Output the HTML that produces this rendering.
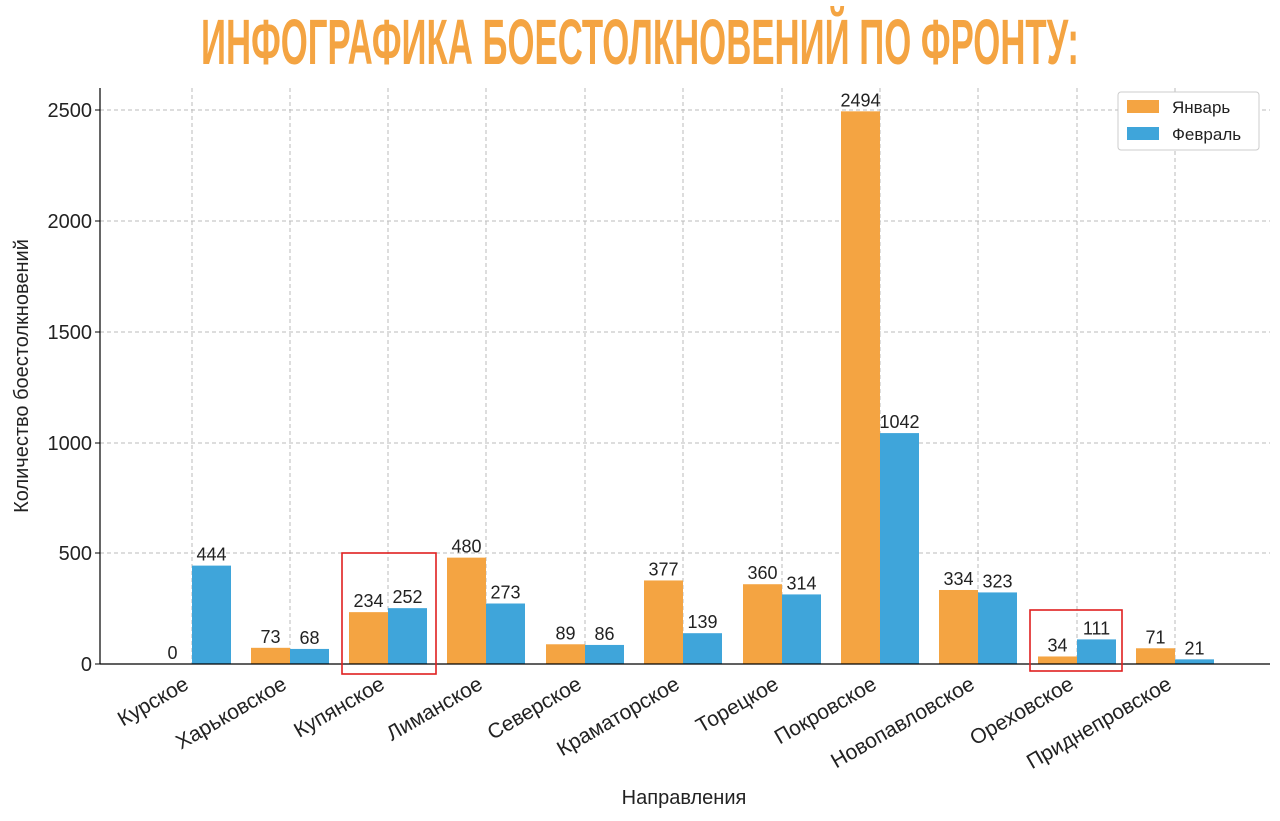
<!DOCTYPE html>
<html><head><meta charset="utf-8"><style>
html,body{margin:0;padding:0;background:#fff;}
svg{display:block;font-family:"Liberation Sans","DejaVu Sans",sans-serif;}
</style></head><body>
<svg width="1280" height="821" viewBox="0 0 1280 821" xmlns="http://www.w3.org/2000/svg">
<rect width="1280" height="821" fill="#fff"/>
<text x="640" y="64" text-anchor="middle" font-size="64" font-weight="bold" fill="#F4A442" textLength="878" lengthAdjust="spacingAndGlyphs">ИНФОГРАФИКА БОЕСТОЛКНОВЕНИЙ ПО ФРОНТУ:</text>
<g stroke="#bbb" stroke-dasharray="4,3" stroke-width="1">
<line x1="100" x2="1270" y1="110" y2="110"/><line x1="100" x2="1270" y1="221" y2="221"/><line x1="100" x2="1270" y1="332" y2="332"/><line x1="100" x2="1270" y1="443" y2="443"/><line x1="100" x2="1270" y1="553" y2="553"/>
<line x1="192" x2="192" y1="88" y2="664"/><line x1="290" x2="290" y1="88" y2="664"/><line x1="388" x2="388" y1="88" y2="664"/><line x1="486" x2="486" y1="88" y2="664"/><line x1="585" x2="585" y1="88" y2="664"/><line x1="683" x2="683" y1="88" y2="664"/><line x1="782" x2="782" y1="88" y2="664"/><line x1="880" x2="880" y1="88" y2="664"/><line x1="978" x2="978" y1="88" y2="664"/><line x1="1077" x2="1077" y1="88" y2="664"/><line x1="1175" x2="1175" y1="88" y2="664"/>
</g>
<g id="bars"></g>
<line x1="100" x2="100" y1="88" y2="664" stroke="#000" stroke-width="1.2"/>
<line x1="100" x2="1270" y1="664" y2="664" stroke="#000" stroke-width="1.2"/>
<g font-size="20" fill="#222" text-anchor="end">
<text x="92" y="671">0</text><text x="92" y="560">500</text><text x="92" y="450">1000</text><text x="92" y="339">1500</text><text x="92" y="228">2000</text><text x="92" y="117">2500</text>
</g>
<g stroke="#000"><line x1="95" x2="100" y1="664" y2="664"/><line x1="95" x2="100" y1="553" y2="553"/><line x1="95" x2="100" y1="443" y2="443"/><line x1="95" x2="100" y1="332" y2="332"/><line x1="95" x2="100" y1="221" y2="221"/><line x1="95" x2="100" y1="110" y2="110"/></g>
<text transform="translate(28,376) rotate(-90)" text-anchor="middle" font-size="20" fill="#222">Количество боестолкновений</text>
<text x="684" y="804" text-anchor="middle" font-size="20" fill="#222">Направления</text>
<rect x="1118" y="92" width="141" height="58" fill="#fff" stroke="#ccc" rx="3"/>
<rect x="1127" y="100" width="32" height="13" fill="#F4A442"/><text x="1172" y="113" font-size="17" fill="#222">Январь</text>
<rect x="1127" y="127" width="32" height="13" fill="#3FA5DA"/><text x="1172" y="140" font-size="17" fill="#222">Февраль</text>
<rect x="342" y="553" width="94" height="121" fill="none" stroke="#e02020" stroke-width="1.6"/>
<rect x="1030" y="610" width="92" height="61" fill="none" stroke="#e02020" stroke-width="1.6"/>
<g id="xl" font-size="21" fill="#222" text-anchor="end"></g>
</svg>
<script>
var names=["Курское","Харьковское","Купянское","Лиманское","Северское","Краматорское","Торецкое","Покровское","Новопавловское","Ореховское","Приднепровское"];
var jan=[0,73,234,480,89,377,360,2494,334,34,71],feb=[444,68,252,273,86,139,314,1042,323,111,21];
var cs=[192,290,388,486,585,683,782,880,978,1077,1175];
var ns="http://www.w3.org/2000/svg",b=document.getElementById("bars"),xl=document.getElementById("xl");
function el(t,a,p,txt){var e=document.createElementNS(ns,t);for(var k in a)e.setAttribute(k,a[k]);if(txt!==undefined)e.textContent=txt;p.appendChild(e);return e;}
var k=554/2500,w=39;
for(var i=0;i<11;i++){
 var c=cs[i];
 [[jan[i],c-w,"#F4A442"],[feb[i],c,"#3FA5DA"]].forEach(function(d){
  var h=d[0]*k;
  el("rect",{x:d[1],y:664-h,width:w,height:h,fill:d[2]},b);
  el("text",{x:d[1]+w/2,y:664-h-5,"text-anchor":"middle","font-size":"18",fill:"#222"},b,d[0]);
 });
 el("text",{transform:"translate("+(c-2)+",688) rotate(-30)"},xl,names[i]);
}
</script>
</body></html>
